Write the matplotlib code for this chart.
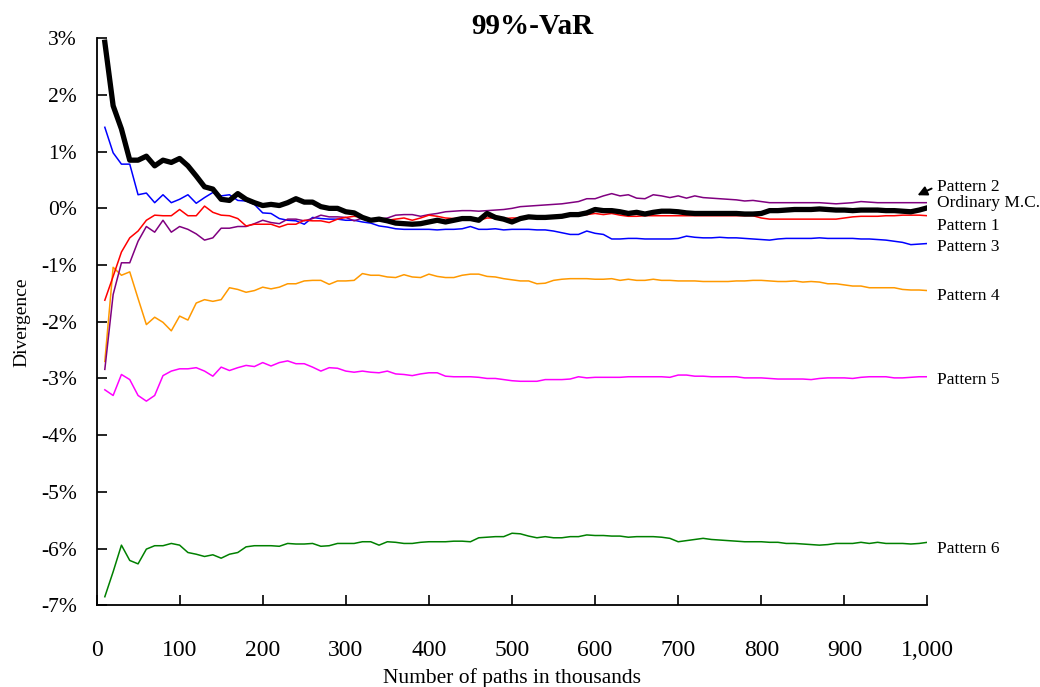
import matplotlib
matplotlib.use("Agg")
import matplotlib.pyplot as plt
from matplotlib.ticker import FuncFormatter, MultipleLocator

plt.rcParams['font.family'] = ['Liberation Serif', 'DejaVu Serif']

# number of paths (thousands)
paths = list(range(10, 1001, 10))

# divergence in percent
ordinary_mc = [2.93, 1.81, 1.40, 0.85, 0.85, 0.92, 0.75, 0.85, 0.81, 0.88,
               0.75, 0.57, 0.38, 0.34, 0.16, 0.14, 0.26, 0.16, 0.10, 0.05,
               0.07, 0.05, 0.10, 0.17, 0.11, 0.11, 0.03, 0.00, 0.00, -0.06,
               -0.08, -0.16, -0.21, -0.19, -0.22, -0.26, -0.27, -0.28, -0.27, -0.24,
               -0.21, -0.24, -0.21, -0.18, -0.18, -0.21, -0.09, -0.16, -0.19, -0.24,
               -0.18, -0.15, -0.16, -0.16, -0.15, -0.14, -0.11, -0.11, -0.08, -0.02,
               -0.04, -0.04, -0.06, -0.09, -0.07, -0.10, -0.07, -0.05, -0.05, -0.06,
               -0.08, -0.09, -0.09, -0.09, -0.09, -0.09, -0.09, -0.10, -0.10, -0.09,
               -0.04, -0.04, -0.03, -0.02, -0.02, -0.02, -0.01, -0.02, -0.03, -0.03,
               -0.04, -0.03, -0.03, -0.03, -0.04, -0.04, -0.05, -0.06, -0.03, 0.01]

pattern1 = [-1.62, -1.20, -0.77, -0.52, -0.40, -0.21, -0.12, -0.13, -0.13, -0.02,
            -0.13, -0.13, 0.04, -0.07, -0.12, -0.13, -0.18, -0.31, -0.28, -0.28,
            -0.28, -0.33, -0.28, -0.28, -0.21, -0.22, -0.22, -0.25, -0.19, -0.16,
            -0.14, -0.16, -0.19, -0.19, -0.21, -0.19, -0.17, -0.21, -0.17, -0.12,
            -0.14, -0.17, -0.18, -0.17, -0.18, -0.21, -0.17, -0.17, -0.18, -0.17,
            -0.17, -0.15, -0.15, -0.15, -0.15, -0.14, -0.12, -0.12, -0.11, -0.09,
            -0.11, -0.09, -0.12, -0.14, -0.14, -0.13, -0.13, -0.13, -0.13, -0.13,
            -0.13, -0.13, -0.13, -0.13, -0.13, -0.13, -0.13, -0.13, -0.13, -0.17,
            -0.19, -0.19, -0.19, -0.19, -0.19, -0.19, -0.19, -0.19, -0.19, -0.17,
            -0.15, -0.14, -0.14, -0.14, -0.13, -0.13, -0.12, -0.12, -0.12, -0.13]

pattern2 = [-2.84, -1.52, -0.96, -0.96, -0.58, -0.32, -0.42, -0.21, -0.42, -0.32,
            -0.37, -0.45, -0.56, -0.52, -0.35, -0.35, -0.32, -0.32, -0.27, -0.21,
            -0.25, -0.27, -0.19, -0.19, -0.22, -0.18, -0.12, -0.15, -0.15, -0.16,
            -0.22, -0.17, -0.21, -0.19, -0.17, -0.12, -0.11, -0.11, -0.14, -0.11,
            -0.09, -0.06, -0.05, -0.04, -0.04, -0.05, -0.04, -0.03, -0.02, 0.00,
            0.03, 0.04, 0.05, 0.06, 0.07, 0.08, 0.10, 0.12, 0.17, 0.17,
            0.22, 0.26, 0.22, 0.24, 0.18, 0.17, 0.24, 0.22, 0.19, 0.22,
            0.18, 0.22, 0.19, 0.18, 0.17, 0.16, 0.15, 0.13, 0.14, 0.12,
            0.10, 0.10, 0.10, 0.10, 0.10, 0.10, 0.10, 0.09, 0.08, 0.09,
            0.10, 0.12, 0.11, 0.10, 0.10, 0.10, 0.10, 0.10, 0.10, 0.10]

pattern3 = [1.43, 0.98, 0.78, 0.78, 0.24, 0.27, 0.10, 0.24, 0.10, 0.16,
            0.24, 0.09, 0.19, 0.28, 0.22, 0.24, 0.14, 0.13, 0.07, -0.08,
            -0.09, -0.18, -0.21, -0.22, -0.28, -0.16, -0.18, -0.19, -0.19, -0.21,
            -0.21, -0.24, -0.26, -0.31, -0.33, -0.36, -0.37, -0.37, -0.37, -0.37,
            -0.38, -0.37, -0.37, -0.36, -0.32, -0.37, -0.37, -0.36, -0.38, -0.37,
            -0.37, -0.37, -0.38, -0.38, -0.40, -0.43, -0.46, -0.46, -0.40, -0.44,
            -0.46, -0.54, -0.54, -0.53, -0.53, -0.54, -0.54, -0.54, -0.54, -0.53,
            -0.49, -0.51, -0.52, -0.52, -0.51, -0.52, -0.52, -0.53, -0.54, -0.55,
            -0.56, -0.54, -0.53, -0.53, -0.53, -0.53, -0.52, -0.53, -0.53, -0.53,
            -0.53, -0.54, -0.54, -0.55, -0.56, -0.58, -0.60, -0.64, -0.63, -0.62]

pattern4 = [-2.70, -1.04, -1.18, -1.12, -1.59, -2.05, -1.92, -2.01, -2.16, -1.90,
            -1.97, -1.67, -1.61, -1.64, -1.61, -1.40, -1.43, -1.48, -1.45, -1.39,
            -1.42, -1.39, -1.33, -1.33, -1.28, -1.27, -1.27, -1.34, -1.28, -1.28,
            -1.27, -1.15, -1.18, -1.18, -1.21, -1.22, -1.17, -1.21, -1.22, -1.16,
            -1.20, -1.22, -1.22, -1.18, -1.16, -1.16, -1.20, -1.21, -1.24, -1.26,
            -1.28, -1.28, -1.33, -1.32, -1.27, -1.25, -1.24, -1.24, -1.24, -1.25,
            -1.25, -1.24, -1.27, -1.25, -1.27, -1.27, -1.25, -1.27, -1.27, -1.28,
            -1.28, -1.28, -1.29, -1.29, -1.29, -1.29, -1.28, -1.28, -1.27, -1.27,
            -1.28, -1.29, -1.29, -1.28, -1.30, -1.29, -1.30, -1.33, -1.33, -1.35,
            -1.37, -1.37, -1.40, -1.40, -1.40, -1.40, -1.43, -1.44, -1.44, -1.45]

pattern5 = [-3.20, -3.30, -2.93, -3.02, -3.30, -3.40, -3.30, -2.95, -2.87, -2.83,
            -2.83, -2.81, -2.87, -2.96, -2.80, -2.86, -2.81, -2.77, -2.79, -2.72,
            -2.78, -2.72, -2.69, -2.74, -2.74, -2.80, -2.87, -2.81, -2.82, -2.87,
            -2.89, -2.87, -2.89, -2.90, -2.87, -2.92, -2.93, -2.95, -2.92, -2.90,
            -2.90, -2.96, -2.97, -2.97, -2.97, -2.98, -3.00, -3.00, -3.02, -3.04,
            -3.05, -3.05, -3.05, -3.02, -3.02, -3.02, -3.01, -2.97, -2.99, -2.98,
            -2.98, -2.98, -2.98, -2.97, -2.97, -2.97, -2.97, -2.97, -2.98, -2.94,
            -2.94, -2.96, -2.96, -2.97, -2.97, -2.97, -2.97, -2.99, -2.99, -2.99,
            -3.00, -3.01, -3.01, -3.01, -3.01, -3.02, -3.00, -2.99, -2.99, -2.99,
            -3.00, -2.98, -2.97, -2.97, -2.97, -2.99, -2.99, -2.98, -2.97, -2.97]

pattern6 = [-6.85, -6.41, -5.94, -6.21, -6.27, -6.01, -5.95, -5.95, -5.91, -5.94,
            -6.07, -6.10, -6.14, -6.11, -6.17, -6.10, -6.07, -5.97, -5.95, -5.95,
            -5.95, -5.96, -5.91, -5.92, -5.92, -5.91, -5.96, -5.95, -5.91, -5.91,
            -5.91, -5.88, -5.88, -5.94, -5.88, -5.89, -5.91, -5.91, -5.89, -5.88,
            -5.88, -5.88, -5.87, -5.87, -5.88, -5.81, -5.80, -5.79, -5.79, -5.73,
            -5.74, -5.78, -5.81, -5.79, -5.81, -5.81, -5.79, -5.79, -5.76, -5.77,
            -5.77, -5.78, -5.78, -5.80, -5.79, -5.79, -5.79, -5.80, -5.82, -5.88,
            -5.86, -5.84, -5.82, -5.84, -5.85, -5.86, -5.87, -5.88, -5.88, -5.88,
            -5.89, -5.89, -5.91, -5.91, -5.92, -5.93, -5.94, -5.93, -5.91, -5.91,
            -5.91, -5.89, -5.91, -5.89, -5.91, -5.91, -5.91, -5.92, -5.91, -5.89]

fig = plt.figure(figsize=(10.4, 6.87), dpi=100)
ax = fig.add_axes([0.0928, 0.119, 0.7990, 0.8253])

# thin lines for the patterns, thick black line for ordinary Monte Carlo
ax.plot(paths, pattern6, color='#008000', lw=1.1)
ax.plot(paths, pattern5, color='#FF00FF', lw=1.1)
ax.plot(paths, pattern4, color='#FF9900', lw=1.1)
ax.plot(paths, pattern3, color='#0000FF', lw=1.1)
ax.plot(paths, pattern2, color='#800080', lw=1.1)
ax.plot(paths, pattern1, color='#FF0000', lw=1.1)
ax.plot(paths, ordinary_mc, color='black', lw=3.8)

ax.set_xlim(0, 1000)
ax.set_ylim(-7, 3)
ax.xaxis.set_major_locator(MultipleLocator(100))
ax.yaxis.set_major_locator(MultipleLocator(1))
ax.xaxis.set_major_formatter(FuncFormatter(lambda v, p: f'{v:,.0f}'))
ax.yaxis.set_major_formatter(FuncFormatter(lambda v, p: f'{v:.0f}%'))

for side in ['top', 'right']:
    ax.spines[side].set_visible(False)
for side in ['left', 'bottom']:
    ax.spines[side].set_linewidth(1.3)

ax.tick_params(axis='x', direction='in', length=7, width=1.2, pad=25, labelsize=17)
ax.tick_params(axis='y', direction='in', length=7, width=1.2, pad=14, labelsize=15.5)

fig.text(0.512, 0.961, '99%-VaR', fontsize=21, fontweight='bold',
         ha='center', va='center')
ax.set_xlabel('Number of paths in thousands', fontsize=15.5, labelpad=5)
ax.set_ylabel('Divergence', fontsize=14, labelpad=8)

# series names at the right end of each line
labels = [('Pattern 2', 0.38), ('Ordinary M.C.', 0.09), ('Pattern 1', -0.31),
          ('Pattern 3', -0.69), ('Pattern 4', -1.54), ('Pattern 5', -3.02),
          ('Pattern 6', -6.0)]
for name, yv in labels:
    ax.text(1011, yv, name, fontsize=12.5, va='center', ha='left', clip_on=False)

ax.annotate('', xy=(985, 0.21), xytext=(1008, 0.37),
            arrowprops=dict(arrowstyle='-|>', color='black', lw=1.4,
                            mutation_scale=14),
            annotation_clip=False)

fig.savefig('out.png', dpi=100)
